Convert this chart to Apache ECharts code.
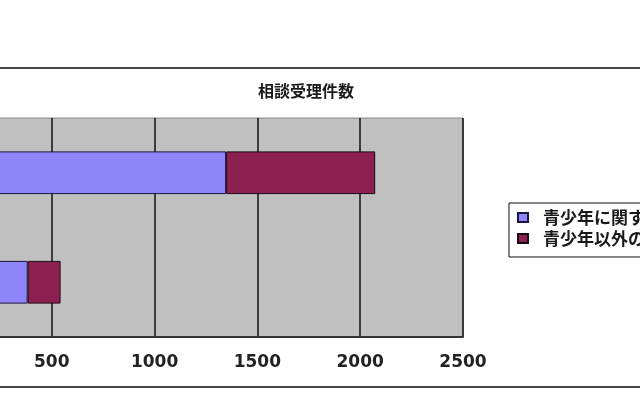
<!DOCTYPE html>
<html>
<head>
<meta charset="utf-8">
<script src="https://cdn.jsdelivr.net/npm/echarts@6/dist/echarts.min.js"></script>
<style>
  html, body { margin: 0; padding: 0; background: #fff; overflow: hidden; }
  /* 元画像はグラフの左端が切れているので、キャンバスを左にはみ出させる */
  #chart { position: absolute; left: -60px; top: 0; width: 700px; height: 400px; }
</style>
</head>
<body>
<div id="chart"></div>
<script>
// データ（左側のカテゴリ名は画像外で見えないため仮の名前）
const categories = ['前年度', '今年度'];
const seriesNames = ['青少年に関する相談', '青少年以外の相談'];
const youthCounts = [383, 1348];
const otherCounts = [160, 725];
const xTicks = [0, 500, 1000, 1500, 2000, 2500];

function renderConsultChart() {
  const chart = echarts.init(document.getElementById('chart'));

  const option = {
    backgroundColor: '#fff',
    animation: false,
    title: {
      text: '相談受理件数',
      left: 313,
      top: 78,
      textStyle: {
        fontFamily: 'Noto Sans CJK JP',
        fontSize: 16,
        fontWeight: 'bold',
        color: '#1a1a1a'
      }
    },
    legend: {
      orient: 'vertical',
      left: 569,
      top: 203,
      padding: [6, 10, 10, 8],
      itemWidth: 10,
      itemHeight: 9,
      itemGap: 4,
      borderColor: '#111',
      borderWidth: 1,
      icon: 'rect',
      data: seriesNames,
      textStyle: {
        fontFamily: 'Noto Sans CJK JP',
        fontSize: 17,
        fontWeight: 'bold',
        color: '#1a1a1a',
        padding: [0, 0, 0, 10]
      }
    },
    grid: {
      left: 4,
      right: 177,
      top: 118,
      bottom: 63,
      show: true,
      backgroundColor: '#c0c0c0',
      borderColor: '#888',
      borderWidth: 1
    },
    xAxis: {
      type: 'value',
      min: xTicks[0],
      max: xTicks[xTicks.length - 1],
      interval: 500,
      axisLine: { show: true, lineStyle: { color: '#333', width: 2 } },
      axisTick: { show: false },
      axisLabel: {
        margin: 17,
        fontFamily: 'DejaVu Sans',
        fontSize: 17,
        fontWeight: 'bold',
        color: '#222',
        formatter: (v) => String(v)
      },
      splitLine: { show: true, lineStyle: { color: '#111', width: 1.5 } }
    },
    yAxis: {
      type: 'category',
      data: categories,
      axisLine: { show: false },
      axisTick: { show: false },
      axisLabel: { show: false }
    },
    series: [
      {
        name: seriesNames[0],
        type: 'bar',
        stack: 'total',
        barCategoryGap: '61%',
        data: youthCounts,
        itemStyle: { color: '#8f85fb', borderColor: '#1a1440', borderWidth: 1 }
      },
      {
        name: seriesNames[1],
        type: 'bar',
        stack: 'total',
        barCategoryGap: '61%',
        data: otherCounts,
        itemStyle: { color: '#8c2050', borderColor: '#1a0a14', borderWidth: 1 }
      }
    ],
    graphic: [
      {
        type: 'rect',
        silent: true,
        shape: { x: -10, y: 68, width: 720, height: 319 },
        style: { fill: null, stroke: '#444', lineWidth: 2 }
      }
    ]
  };

  chart.setOption(option);
  window.addEventListener('resize', () => chart.resize());
}

renderConsultChart();
</script>
</body>
</html>
